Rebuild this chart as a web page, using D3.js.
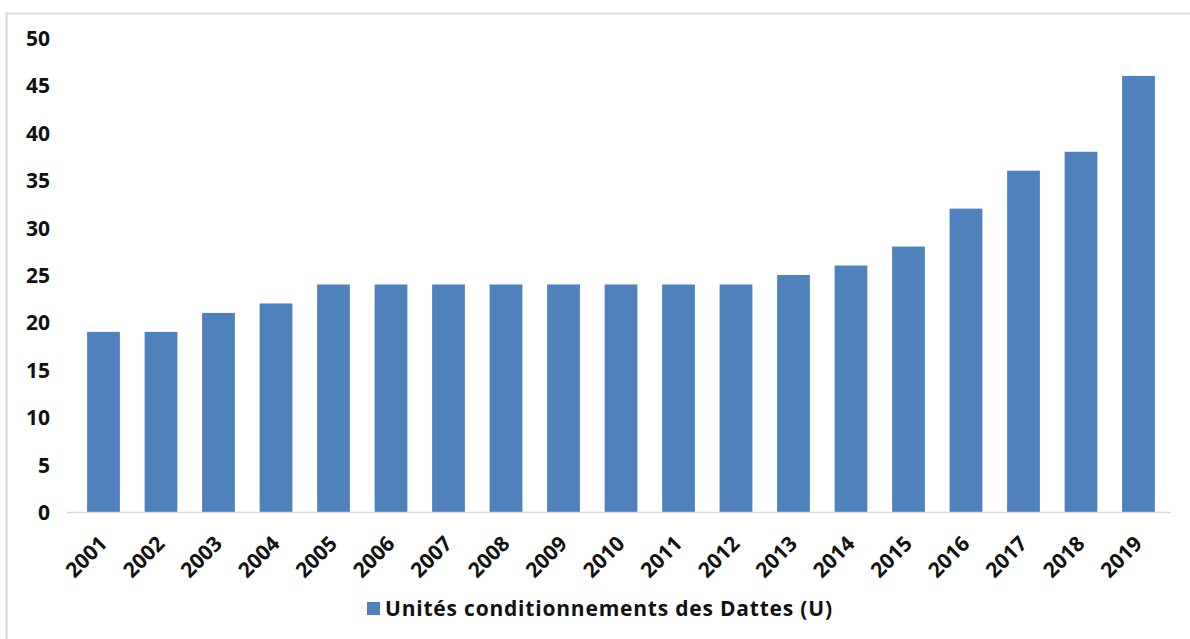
<!DOCTYPE html>
<html>
<head>
<meta charset="utf-8">
<script src="https://cdn.jsdelivr.net/npm/d3@7"></script>
<style>
  body { margin: 0; background: #fff; }
  text { font-family: "Open Sans", "Noto Sans", sans-serif; font-weight: bold; fill: #111; }
</style>
</head>
<body>
<div id="chart"></div>
<script>
// données
var years = ["2001","2002","2003","2004","2005","2006","2007","2008","2009","2010",
             "2011","2012","2013","2014","2015","2016","2017","2018","2019"];
var unites = [19,19,21,22,24,24,24,24,24,24,24,24,25,26,28,32,36,38,46];
var yTicks = [0,5,10,15,20,25,30,35,40,45,50];
var seriesName = "Unités conditionnements des Dattes (U)";

var W = 1190, H = 639;
var svg = d3.select("#chart").append("svg")
    .attr("width", W).attr("height", H);

// cadre du graphique
svg.append("rect")
    .attr("x", 6.5).attr("y", 13.5)
    .attr("width", W + 20).attr("height", H + 20)
    .attr("fill", "none").attr("stroke", "#d9d9d9").attr("stroke-width", 2);

var x = d3.scaleBand()
    .domain(years)
    .range([74.75, 1167.25])
    .paddingInner(0.43)
    .paddingOuter(0.215);

var y = d3.scaleLinear()
    .domain([0, 50])
    .range([512, 38]);

// axe Y (sans ligne)
var yAxis = svg.append("g")
    .attr("transform", "translate(50,0)")
    .call(d3.axisLeft(y).tickValues(yTicks).tickSize(0).tickPadding(0));
yAxis.select(".domain").remove();
yAxis.selectAll("text")
    .attr("dy", "0.36em")
    .style("font-size", "21px");

// barres
svg.append("g")
  .selectAll("rect")
  .data(unites)
  .enter()
  .append("rect")
    .attr("x", function(d, i) { return x(years[i]); })
    .attr("y", function(d) { return y(d); })
    .attr("width", x.bandwidth())
    .attr("height", function(d) { return y(0) - y(d); })
    .attr("fill", "#4f81bd");

// axe X
svg.append("line")
    .attr("x1", 67).attr("x2", 1171)
    .attr("y1", y(0) + 0.5).attr("y2", y(0) + 0.5)
    .attr("stroke", "#d9d9d9").attr("stroke-width", 1.5);

var xAxis = svg.append("g")
    .attr("transform", "translate(0," + y(0) + ")")
    .call(d3.axisBottom(x).tickSize(0).tickPadding(0));
xAxis.select(".domain").remove();
xAxis.selectAll("text")
    .style("font-size", "21px")
    .attr("text-anchor", "end")
    .attr("dy", "0")
    .attr("transform", "translate(5,33) rotate(-45)");

// légende
var legend = svg.append("g").attr("transform", "translate(367,602)");
legend.append("rect")
    .attr("width", 13).attr("height", 13)
    .attr("fill", "#4f81bd");
legend.append("text")
    .attr("x", 18).attr("y", 14)
    .attr("textLength", 447)
    .attr("lengthAdjust", "spacing")
    .style("font-size", "21px")
    .text(seriesName);
</script>
</body>
</html>
